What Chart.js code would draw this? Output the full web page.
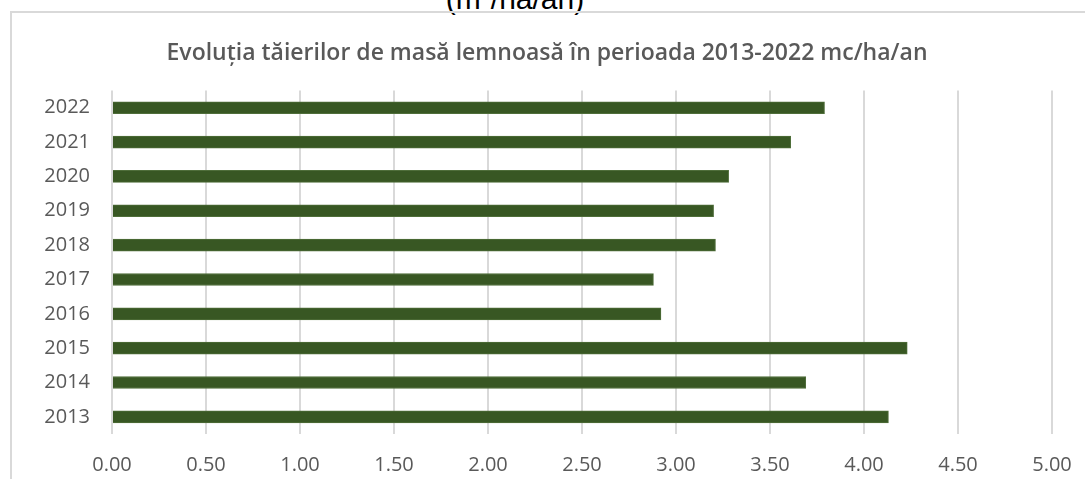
<!DOCTYPE html>
<html>
<head>
<meta charset="utf-8">
<script src="https://cdn.jsdelivr.net/npm/chart.js@4"></script>
<style>
    html, body { margin: 0; padding: 0; background: #fff; overflow: hidden; }
    body { width: 1085px; height: 479px; position: relative; }
    #unit {
        position: absolute; left: 0; width: 1030px; top: -25px;
        text-align: center; font-family: "Liberation Sans", Arial, sans-serif;
        font-size: 30px; line-height: 34px; color: #000;
    }
    #frame {
        position: absolute; left: 10px; top: 11px; width: 1200px; height: 600px;
        border: 2px solid #d9d9d9; box-sizing: border-box;
    }
    #wrap { position: absolute; left: 0; top: 0; width: 1085px; height: 479px; }
</style>
</head>
<body>
<div id="unit">(m<sup style="font-size:18px">3</sup>/ha/an)</div>
<div id="frame"></div>
<div id="wrap"><canvas id="chart"></canvas></div>
<script>
// Chart data
const years = ['2013', '2014', '2015', '2016', '2017', '2018', '2019', '2020', '2021', '2022'];
const cuttings = [4.13, 3.69, 4.23, 2.92, 2.88, 3.21, 3.20, 3.28, 3.61, 3.79];
const xTicks = [0, 0.5, 1, 1.5, 2, 2.5, 3, 3.5, 4, 4.5, 5];

const chartTitle = 'Evoluția tăierilor de masă lemnoasă în perioada 2013-2022 mc/ha/an';
const textColor = '#595959';
const gridColor = '#d9d9d9';

new Chart(document.getElementById('chart'), {
    type: 'bar',
    data: {
        labels: years,
        datasets: [{
            label: 'mc/ha/an',
            data: cuttings,
            backgroundColor: '#385723',
            borderColor: '#4f6e3a',
            borderWidth: 1,
            borderSkipped: 'start',
            barThickness: 12
        }]
    },
    options: {
        indexAxis: 'y',
        responsive: true,
        maintainAspectRatio: false,
        animation: false,
        layout: {
            padding: { left: 9, right: 0, top: 0, bottom: 0 }
        },
        plugins: {
            legend: { display: false },
            tooltip: { enabled: false },
            title: {
                display: true,
                text: chartTitle,
                color: textColor,
                font: { family: 'Open Sans', size: 23, weight: '600', lineHeight: 1.2 },
                padding: { top: 40, bottom: 23 }
            }
        },
        scales: {
            x: {
                min: 0,
                max: 5,
                afterBuildTicks: scale => {
                    scale.ticks = xTicks.map(v => ({ value: v }));
                },
                afterFit: scale => {
                    scale.height = 45;
                    // keep plot right edge where the reference has it
                    scale.paddingLeft = 0;
                    scale.paddingRight = 33;
                },
                ticks: {
                    color: textColor,
                    font: { family: 'Open Sans', size: 20 },
                    padding: 19,
                    maxRotation: 0,
                    callback: v => Number(v).toFixed(2)
                },
                grid: {
                    color: gridColor,
                    lineWidth: 2,
                    drawTicks: false
                },
                border: { display: false }
            },
            y: {
                reverse: true,
                afterFit: scale => { scale.width = 103; },
                ticks: {
                    color: textColor,
                    font: { family: 'Open Sans', size: 20 },
                    padding: 22
                },
                grid: { display: false, drawTicks: false },
                border: { display: false }
            }
        }
    }
});
</script>
</body>
</html>
